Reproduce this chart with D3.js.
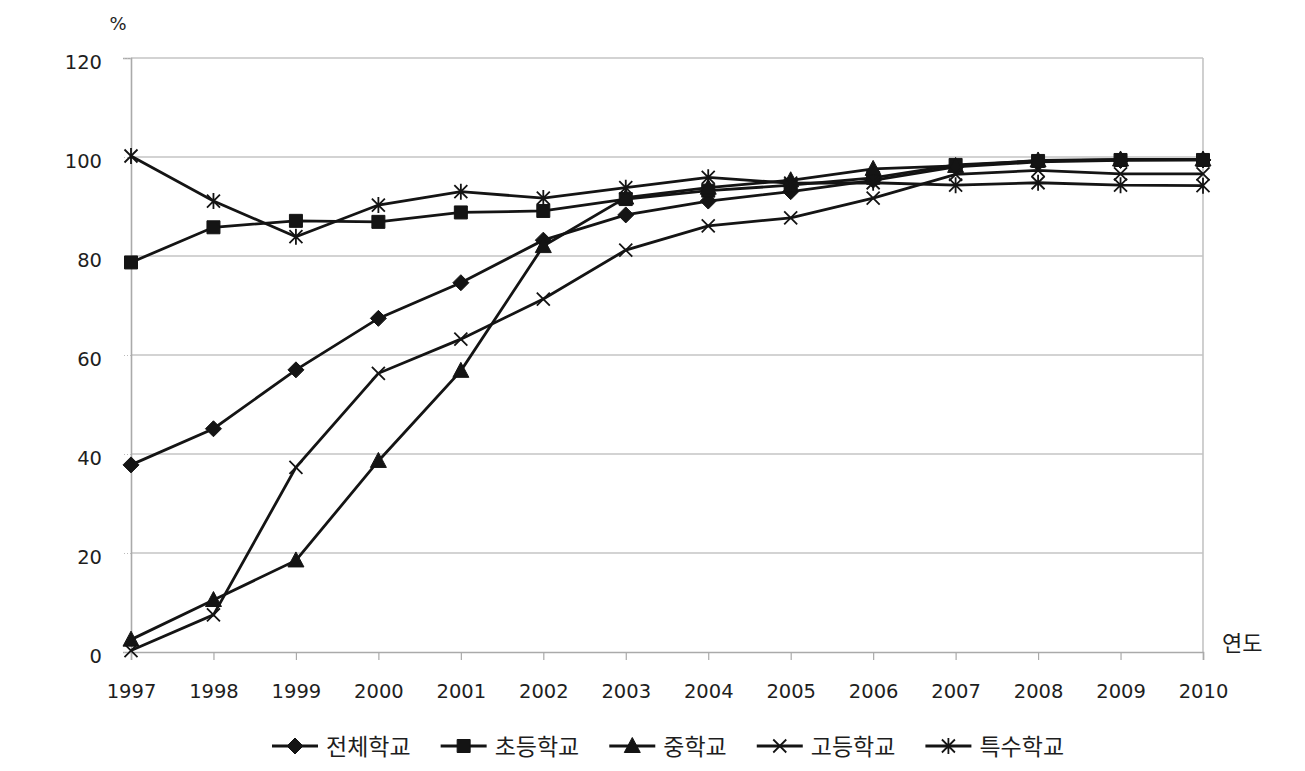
<!DOCTYPE html>
<html>
<head>
<meta charset="utf-8">
<script src="https://cdn.jsdelivr.net/npm/d3@7"></script>
<style>
  body { margin: 0; background: #fff; }
  svg { display: block; }
</style>
</head>
<body>
<div id="chart"></div>
<script>
// data
var years = [1997, 1998, 1999, 2000, 2001, 2002, 2003, 2004, 2005, 2006, 2007, 2008, 2009, 2010];
var yTicks = [0, 20, 40, 60, 80, 100, 120];

var allSchools     = [37.8, 45.1, 57.0, 67.4, 74.6, 83.2, 88.3, 91.1, 93.0, 95.3, 98.0, 99.0, 99.3, 99.4];
var elementary     = [78.7, 85.8, 87.1, 86.9, 88.8, 89.1, 91.5, 93.2, 94.3, 95.8, 98.4, 99.2, 99.4, 99.4];
var middleSchool   = [2.5, 10.5, 18.5, 38.6, 56.8, 82.0, 91.8, 93.8, 95.3, 97.6, 98.2, 99.3, 99.5, 99.5];
var highSchool     = [0.3, 7.5, 37.3, 56.3, 63.2, 71.3, 81.2, 86.1, 87.7, 91.7, 96.5, 97.3, 96.6, 96.6];
var specialSchool  = [100.2, 91.1, 83.9, 90.3, 93.0, 91.7, 93.8, 95.9, 94.7, 94.8, 94.3, 94.8, 94.3, 94.2];

var seriesNames = ["전체학교", "초등학교", "중학교", "고등학교", "특수학교"];
var seriesValues = [allSchools, elementary, middleSchool, highSchool, specialSchool];
var seriesMarkers = ["diamond", "square", "triangle", "x", "asterisk"];

var W = 1305, H = 771;
var margin = { top: 58, right: 102, bottom: 119, left: 131 };
var width = W - margin.left - margin.right;
var height = H - margin.top - margin.bottom;

var ink = "#141414";
var gridColor = "#c4c4c4";

var svg = d3.select("#chart")
  .append("svg")
  .attr("width", W)
  .attr("height", H);

var g = svg.append("g")
  .attr("transform", "translate(" + margin.left + "," + margin.top + ")");

var xScale = d3.scaleLinear()
  .domain([d3.min(years), d3.max(years)])
  .range([0, width]);

var yScale = d3.scaleLinear()
  .domain([0, 120])
  .range([height, 0]);

// grid lines
g.append("g")
  .selectAll("line")
  .data(yTicks.filter(function (d) { return d > 0; }))
  .enter()
  .append("line")
  .attr("x1", 0)
  .attr("x2", width)
  .attr("y1", function (d) { return yScale(d); })
  .attr("y2", function (d) { return yScale(d); })
  .attr("stroke", gridColor)
  .attr("stroke-width", 1.6);

// right border of plot area
g.append("line")
  .attr("x1", width).attr("x2", width)
  .attr("y1", 0).attr("y2", height)
  .attr("stroke", gridColor)
  .attr("stroke-width", 1.6);

// y axis
var yAxis = d3.axisLeft(yScale).tickValues(yTicks).tickSize(8).tickPadding(21);
var yg = g.append("g").call(yAxis);
yg.select(".domain").attr("stroke", "#aaaaaa").attr("stroke-width", 1.6);
yg.selectAll(".tick line").attr("stroke", "#bbbbbb").attr("stroke-dasharray", "1,2");
yg.selectAll(".tick text")
  .attr("fill", "#1e1e1e")
  .attr("dy", "0.55em")
  .style("font-family", "'DejaVu Sans', sans-serif")
  .style("font-size", "19.5px");

// x axis
var xAxis = d3.axisBottom(xScale).tickValues(years).tickFormat(d3.format("d")).tickSize(8).tickPadding(24);
var xg = g.append("g")
  .attr("transform", "translate(0," + height + ")")
  .call(xAxis);
xg.select(".domain").attr("stroke", "#aaaaaa").attr("stroke-width", 1.6);
xg.selectAll(".tick line").attr("stroke", "#aaaaaa").attr("stroke-width", 1.2);
xg.selectAll(".tick text")
  .attr("fill", "#1e1e1e")
  .style("font-family", "'DejaVu Sans', sans-serif")
  .style("font-size", "19.5px");

// axis unit labels
svg.append("text")
  .attr("x", 118)
  .attr("y", 30)
  .attr("text-anchor", "middle")
  .attr("fill", "#1e1e1e")
  .style("font-family", "'DejaVu Sans', sans-serif")
  .style("font-size", "18px")
  .text("%");

svg.append("text")
  .attr("x", 1222)
  .attr("y", 651)
  .attr("fill", "#1e1e1e")
  .style("font-family", "'Noto Sans CJK KR', sans-serif")
  .style("font-size", "22px")
  .text("연도");

// marker shapes
function markerPath(type) {
  if (type === "diamond") return "M0,-8L8,0L0,8L-8,0Z";
  if (type === "square") return "M-6.5,-6.5H6.5V6.5H-6.5Z";
  if (type === "triangle") return "M0,-8.5L8,6.5L-8,6.5Z";
  if (type === "x") return "M-6.5,-6.5L6.5,6.5M-6.5,6.5L6.5,-6.5";
  return "M-6.5,-6.5L6.5,6.5M-6.5,6.5L6.5,-6.5M0,-8V8";
}

function drawMarker(sel, type) {
  var filled = type === "diamond" || type === "square" || type === "triangle";
  sel.append("path")
    .attr("d", markerPath(type))
    .attr("fill", filled ? ink : "none")
    .attr("stroke", ink)
    .attr("stroke-width", filled ? 1 : 1.8);
}

var line = d3.line()
  .x(function (d, i) { return xScale(years[i]); })
  .y(function (d) { return yScale(d); });

seriesValues.forEach(function (vals, s) {
  var sg = g.append("g");
  sg.append("path")
    .datum(vals)
    .attr("d", line)
    .attr("fill", "none")
    .attr("stroke", ink)
    .attr("stroke-width", 2.8);

  sg.selectAll("g.pt")
    .data(vals)
    .enter()
    .append("g")
    .attr("class", "pt")
    .attr("transform", function (d, i) {
      return "translate(" + xScale(years[i]) + "," + yScale(d) + ")";
    })
    .each(function () { drawMarker(d3.select(this), seriesMarkers[s]); });
});

// legend
var legend = svg.append("g").attr("transform", "translate(272,746)");
var lx = 0;
seriesNames.forEach(function (name, s) {
  var item = legend.append("g").attr("transform", "translate(" + lx + ",0)");
  item.append("line")
    .attr("x1", 0).attr("x2", 46)
    .attr("y1", 0).attr("y2", 0)
    .attr("stroke", ink)
    .attr("stroke-width", 2.8);
  var m = item.append("g").attr("transform", "translate(23,0)");
  drawMarker(m, seriesMarkers[s]);
  var t = item.append("text")
    .attr("x", 54)
    .attr("y", 8.5)
    .attr("fill", "#1e1e1e")
    .style("font-family", "'Noto Sans CJK KR', sans-serif")
    .style("font-size", "23px")
    .text(name);
  lx += 54 + t.node().getComputedTextLength() + 30;
});
</script>
</body>
</html>
